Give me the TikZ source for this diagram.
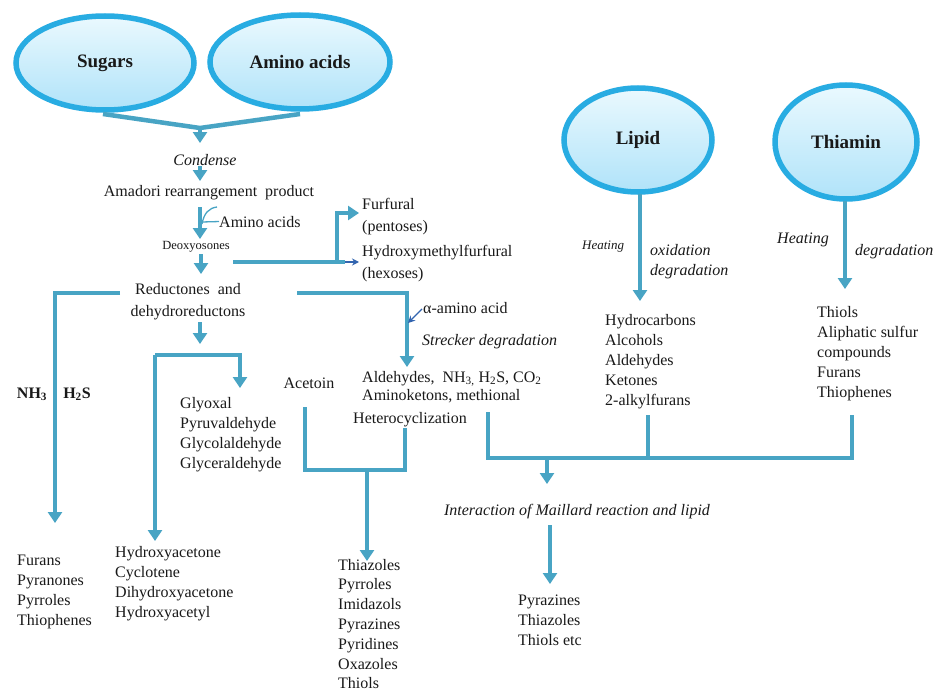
\documentclass[tikz,border=0pt]{standalone}
\usepackage{fontspec}
\setmainfont{Liberation Serif}
\usetikzlibrary{arrows.meta,shapes.geometric,shadows}
\definecolor{lineblue}{RGB}{72,164,196}
\definecolor{edgeblue}{RGB}{40,172,226}
\definecolor{filltop}{RGB}{234,249,254}
\definecolor{fillbot}{RGB}{176,227,249}
\definecolor{txt}{RGB}{25,25,25}
\definecolor{darkarrow}{RGB}{50,100,175}
\begin{document}
\begin{tikzpicture}[x=1pt,y=-1pt,
  srcnode/.style={ellipse, draw=edgeblue, line width=5.5pt, top color=filltop, bottom color=fillbot,
    inner sep=0, text=txt, font=\fontsize{19}{22}\selectfont\bfseries,
    drop shadow={opacity=0.15, shadow xshift=1.5pt, shadow yshift=-2pt}},
  lbl/.style={inner sep=0, text=txt, font=\fontsize{16}{20}\selectfont},
  itl/.style={lbl, font=\fontsize{16}{20}\selectfont\itshape},
  lst/.style={lbl, align=left, anchor=north west},
  conn/.style={draw=lineblue, line width=4.5pt},
  arr/.style={conn, -{Triangle[width=14pt,length=11pt]}},
  thinarr/.style={draw=darkarrow, line width=1.3pt, -{Stealth[length=7pt,width=7pt]}},
  thinline/.style={draw=lineblue, line width=1.3pt}]
\useasboundingbox (0,0) rectangle (938,693);
\fill[white] (0,0) rectangle (938,693);

% ---------- source ellipses ----------
\node[srcnode, minimum width=178pt, minimum height=94pt] (sug) at (105,63) {Sugars};
\node[srcnode, minimum width=180pt, minimum height=94pt] (aa) at (300,62) {Amino acids};
\node[srcnode, minimum width=148pt, minimum height=104pt] (lip) at (638,140) {Lipid};
\node[srcnode, minimum width=142pt, minimum height=114pt] (thi) at (846,142) {Thiamin};

% ---------- texts ----------
\node[itl, anchor=base] (cond) at (205,165) {Condense};
\node[lbl, anchor=base] (amad) at (209,196) {Amadori rearrangement\ \ product};
\node[lbl, anchor=base west] (aa2) at (219,227) {Amino acids};
\node[lbl, anchor=base, font=\fontsize{12.5}{15}\selectfont] (deoxy) at (196,249) {Deoxyosones};
\node[lbl, align=center, anchor=north, font=\fontsize{16}{22}\selectfont] (red) at (188,279)
  {\strut Reductones\ \ and\\\strut dehydroreductons};
\node[lst, font=\fontsize{16}{22}\selectfont] (furf) at (362,194) {\strut Furfural\\\strut (pentoses)};
\node[lst, font=\fontsize{16}{22}\selectfont] (hmf) at (362,241) {\strut Hydroxymethylfurfural\\\strut (hexoses)};

\node[lbl, anchor=base, font=\fontsize{16}{20}\selectfont\bfseries] (nh3) at (32,398) {NH\textsubscript{3}};
\node[lbl, anchor=base, font=\fontsize{16}{20}\selectfont\bfseries] (h2s) at (77,398) {H\textsubscript{2}S};

\node[lst] (glyox) at (180,394) {\strut Glyoxal\\\strut Pyruvaldehyde\\\strut Glycolaldehyde\\\strut Glyceraldehyde};
\node[lbl, anchor=base] (acet) at (309,388) {Acetoin};
\node[lbl, anchor=base west] (alpha) at (423,313) {α-amino acid};
\node[itl, anchor=base west] (streck) at (422,345) {Strecker degradation};
\node[lbl, anchor=base west] (ald) at (362,382) {Aldehydes,\ \ NH\textsubscript{3,} H\textsubscript{2}S, CO\textsubscript{2}};
\node[lbl, anchor=base west] (amk) at (362,400) {Aminoketons, methional};
\node[lbl, anchor=base west] (het) at (353,423) {Heterocyclization};

\node[lst] (fur) at (17,551) {\strut Furans\\\strut Pyranones\\\strut Pyrroles\\\strut Thiophenes};
\node[lst] (hac) at (115,543) {\strut Hydroxyacetone\\\strut Cyclotene\\\strut Dihydroxyacetone\\\strut Hydroxyacetyl};
\node[lst, font=\fontsize{16}{19.8}\selectfont] (thz) at (338,556) {\strut Thiazoles\\\strut Pyrroles\\\strut Imidazols\\\strut Pyrazines\\\strut Pyridines\\\strut Oxazoles\\\strut Thiols};

\node[lbl, anchor=base west, font=\fontsize{13}{16}\selectfont\itshape] (heat1) at (582,249) {Heating};
\node[lst, font=\fontsize{16}{20}\selectfont\itshape] (oxd) at (650,241) {\strut oxidation\\\strut degradation};
\node[itl, anchor=base west] (heat2) at (777,243) {Heating};
\node[itl, anchor=base west] (degr) at (855,255) {degradation};
\node[lst] (lipl) at (605,311) {\strut Hydrocarbons\\\strut Alcohols\\\strut Aldehydes\\\strut Ketones\\\strut 2-alkylfurans};
\node[lst] (thil) at (817,303) {\strut Thiols\\\strut Aliphatic sulfur\\\strut compounds\\\strut Furans\\\strut Thiophenes};
\node[itl, anchor=base] (inter) at (577,515) {Interaction of Maillard reaction and lipid};
\node[lst] (pyr) at (518,591) {\strut Pyrazines\\\strut Thiazoles\\\strut Thiols etc};

% ---------- coordinates ----------
\coordinate (m1) at (200,128);
\coordinate (m1t) at (200,143);
\coordinate (c1) at (200,166);
\coordinate (c1t) at (200,181);
\coordinate (a1) at (200,207);
\coordinate (a1t) at (200,239);
\coordinate (h1) at (202,224);
\coordinate (h2) at (217,207);
\coordinate (h3) at (202,222);
\coordinate (d1) at (201,254);
\coordinate (d1t) at (201,274);
\coordinate (e1) at (233,262);
\coordinate (e2) at (337,262);
\coordinate (e3) at (345,262);
\coordinate (e3t) at (359,262);
\coordinate (e4) at (337,213);
\coordinate (e4t) at (359,213);
\coordinate (l1) at (120,293);
\coordinate (l2) at (55,293);
\coordinate (l2t) at (55,523);
\coordinate (r1) at (297,293);
\coordinate (r2) at (407,293);
\coordinate (r2t) at (407,367);
\coordinate (s1) at (200,322);
\coordinate (s1t) at (200,344);
\coordinate (g1) at (155,355);
\coordinate (g2) at (240,355);
\coordinate (g2t) at (240,388);
\coordinate (g1t) at (155,541);
\coordinate (k1) at (305,407);
\coordinate (k2) at (305,470);
\coordinate (k3) at (405,470);
\coordinate (k4) at (405,428);
\coordinate (k5) at (367,470);
\coordinate (k5t) at (367,561);
\coordinate (q1) at (422,309);
\coordinate (q2) at (408,323);
\coordinate (lip1) at (640,194);
\coordinate (lip1t) at (640,301);
\coordinate (thi1) at (845,201);
\coordinate (thi1t) at (845,289);
\coordinate (b1) at (488,412);
\coordinate (b2) at (488,458);
\coordinate (b3) at (852,458);
\coordinate (b4) at (852,415);
\coordinate (b5) at (648,415);
\coordinate (b6) at (648,458);
\coordinate (b7) at (547,458);
\coordinate (b7t) at (547,484);
\coordinate (i1) at (550,525);
\coordinate (i1t) at (550,584);

% ---------- connectors ----------
\draw[conn] (103,114) -- (m1) -- (300,114);
\draw[arr] (m1) -- (m1t);
\draw[arr] (c1) -- (c1t);
\draw[arr] (a1) -- (a1t);
\draw[thinline] (h1) .. controls (204,213) and (209,208) .. (h2);
\draw[thinline] (h3) -- (aa2.west);
\draw[arr] (d1) -- (d1t);
\draw[conn] (e1) -- (e3);
\draw[thinarr] (e3) -- (e3t);
\draw[arr] (e2) -- (e4) -- (e4t);
\draw[arr] (l1) -- (l2) -- (l2t);
\draw[arr] (r1) -- (r2) -- (r2t);
\draw[thinarr] (q1) -- (q2);
\draw[arr] (s1) -- (s1t);
\draw[arr] (g1) -- (g2) -- (g2t);
\draw[arr] (g1) -- (g1t);
\draw[conn] (k1) -- (k2) -- (k3) -- (k4);
\draw[arr] (k5) -- (k5t);
\draw[arr] (lip1) -- (lip1t);
\draw[arr] (thi1) -- (thi1t);
\draw[conn] (b1) -- (b2) -- (b3) -- (b4);
\draw[conn] (b5) -- (b6);
\draw[arr] (b7) -- (b7t);
\draw[arr] (i1) -- (i1t);
\end{tikzpicture}
\end{document}
